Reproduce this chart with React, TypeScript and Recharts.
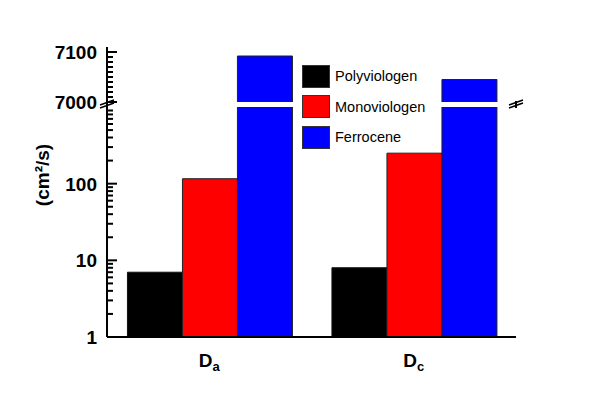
import { Bar, BarChart, XAxis, YAxis } from "recharts";

const FONT = "'Liberation Sans', Arial, sans-serif";

const categories = ["Da", "Dc"];
const seriesNames = ["Polyviologen", "Monoviologen", "Ferrocene"];
const seriesColors = ["#000000", "#ff0000", "#0000ff"];
const polyviologen = [7, 8];
const monoviologen = [116, 250];
const ferrocene = [7092, 7045];

const lowerTicks = [1, 2, 3, 4, 5, 6, 7, 8, 9, 10, 20, 30, 40, 50, 60, 70, 80, 90, 100, 200, 300, 400, 500, 600, 700, 800, 900];
const upperTicks = [7000, 7010, 7020, 7030, 7040, 7050, 7060, 7070, 7080, 7090, 7100];
const majorTicks = [1, 10, 100, 7000, 7100];

const LOW_MAX = 1000;
const HIGH_MIN = 7000;
const HIGH_MAX = 7110;

// layout
const W = 600;
const H = 405;
const PLOT_L = 107;
const PLOT_R = 516;
const PLOT_TOP = 47;
const BREAK_HI = 102;
const BREAK_LO = 107;
const PLOT_BOTTOM = 337;

const data = categories.map((c, i) => ({
  name: c,
  poly: polyviologen[i],
  mono: monoviologen[i],
  ferro: ferrocene[i],
}));
const upperData = data.map((d) => ({
  name: d.name,
  poly: d.poly >= HIGH_MIN ? d.poly : null,
  mono: d.mono >= HIGH_MIN ? d.mono : null,
  ferro: d.ferro >= HIGH_MIN ? d.ferro : null,
}));

const axisLine = { stroke: "#000", strokeWidth: 2 };

function YTick(props: any) {
  const { x, y, payload } = props;
  const v = payload.value;
  const major = majorTicks.includes(v);
  return (
    <g>
      <line x1={x} x2={x + (major ? 10 : 6)} y1={y} y2={y} stroke="#000" strokeWidth={2} />
      {major && (
        <text x={x - 10} y={y} dy="0.36em" textAnchor="end" fontSize={19} fontWeight="bold" fill="#000" fontFamily={FONT}>
          {v}
        </text>
      )}
    </g>
  );
}

function XTick(props: any) {
  const { x, y, payload } = props;
  const name: string = payload.value;
  return (
    <text x={x} y={y + 30} textAnchor="middle" fontSize={19} fontWeight="bold" fill="#000" fontFamily={FONT}>
      <tspan>{name[0]}</tspan>
      <tspan fontSize={13} dy={4}>{name.slice(1)}</tspan>
    </text>
  );
}

function seriesBars() {
  return [
    <Bar key="p" yAxisId="l" dataKey="poly" name={seriesNames[0]} fill={seriesColors[0]} stroke="#111" strokeWidth={1} isAnimationActive={false} />,
    <Bar key="m" yAxisId="l" dataKey="mono" name={seriesNames[1]} fill={seriesColors[1]} stroke="#222" strokeWidth={1} isAnimationActive={false} />,
    <Bar key="f" yAxisId="l" dataKey="ferro" name={seriesNames[2]} fill={seriesColors[2]} stroke="#222" strokeWidth={1} isAnimationActive={false} />,
  ];
}

export default function App() {
  return (
    <div style={{ position: "absolute", left: 0, top: 0, width: W, height: H, background: "#fff" }}>
      {/* lower segment: log 1-1000 */}
      <div style={{ position: "absolute", left: 0, top: 0 }}>
        <BarChart
          width={W}
          height={H}
          data={data}
          barGap={0}
          barCategoryGap="10%"
          margin={{ top: BREAK_LO, right: W - PLOT_R, bottom: 0, left: 0 }}
        >
          <XAxis
            dataKey="name"
            height={H - PLOT_BOTTOM}
            tickSize={0}
            tickMargin={0}
            tickLine={false}
            tick={<XTick />}
            axisLine={axisLine}
          />
          <YAxis
            yAxisId="l"
            type="number"
            scale="log"
            domain={[1, LOW_MAX]}
            allowDataOverflow
            ticks={lowerTicks}
            interval={0}
            width={PLOT_L}
            tickSize={0}
            tickMargin={0}
            tickLine={false}
            tick={<YTick />}
            axisLine={axisLine}
          />
          <YAxis yAxisId="r" orientation="right" width={0} tick={false} tickLine={false} axisLine={axisLine} />
          {seriesBars()}
        </BarChart>
      </div>
      {/* upper segment: linear 7000-7110 */}
      <div style={{ position: "absolute", left: 0, top: 0 }}>
        <BarChart
          width={W}
          height={H}
          data={upperData}
          barGap={0}
          barCategoryGap="10%"
          margin={{ top: PLOT_TOP, right: W - PLOT_R, bottom: H - BREAK_HI, left: 0 }}
        >
          <XAxis dataKey="name" orientation="top" height={0} tick={false} tickLine={false} axisLine={axisLine} />
          <YAxis
            yAxisId="l"
            type="number"
            domain={[HIGH_MIN, HIGH_MAX]}
            allowDataOverflow
            ticks={upperTicks}
            interval={0}
            width={PLOT_L}
            tickSize={0}
            tickMargin={0}
            tickLine={false}
            tick={<YTick />}
            axisLine={axisLine}
          />
          <YAxis yAxisId="r" orientation="right" width={0} tick={false} tickLine={false} axisLine={axisLine} />
          {seriesBars()}
        </BarChart>
      </div>
      {/* legend */}
      <div style={{ position: "absolute", left: 302, top: 61, fontFamily: FONT }}>
        {seriesNames.map((n, i) => (
          <div key={n} style={{ display: "flex", alignItems: "center", height: 30.5 }}>
            <div style={{ width: 26, height: 21, background: seriesColors[i], border: "1px solid #333" }} />
            <span style={{ marginLeft: 5, fontSize: 14.5, color: "#000" }}>{n}</span>
          </div>
        ))}
      </div>
      {/* axis break marks and y title */}
      <svg width={W} height={H} style={{ position: "absolute", left: 0, top: 0, pointerEvents: "none" }}>
        {[PLOT_L, PLOT_R].map((x) => (
          <g key={x} stroke="#000" strokeWidth={1.6}>
            <line x1={x} x2={x} y1={BREAK_HI - 1} y2={BREAK_LO + 1} strokeWidth={2} />
            <line x1={x - 7} y1={BREAK_HI + 3} x2={x + 7} y2={BREAK_HI - 2} />
            <line x1={x - 7} y1={BREAK_LO + 1} x2={x + 7} y2={BREAK_LO - 4} />
          </g>
        ))}
        <text
          x={49}
          y={175}
          transform="rotate(-90 49 175)"
          textAnchor="middle"
          fontSize={19}
          fontWeight="bold"
          fontFamily={FONT}
          fill="#000"
        >
          (cm²/s)
        </text>
      </svg>
    </div>
  );
}
